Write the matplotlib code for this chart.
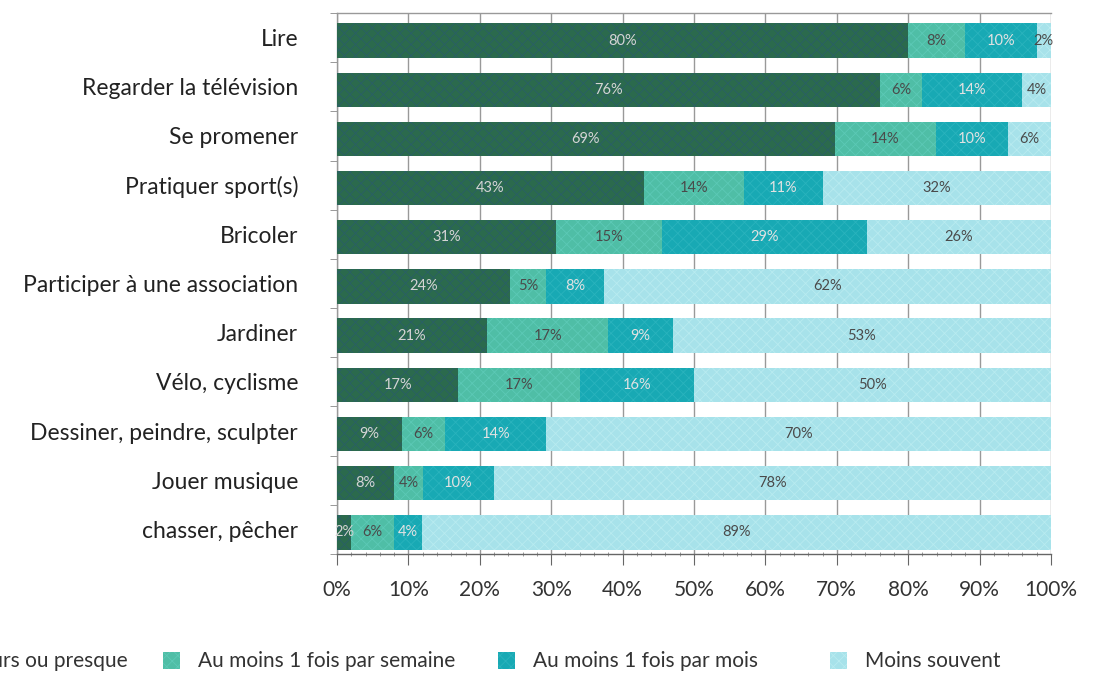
import matplotlib
matplotlib.use("Agg")
import matplotlib.pyplot as plt
from matplotlib.patches import Rectangle
import numpy as np

categories = ["Lire", "Regarder la télévision", "Se promener", "Pratiquer sport(s)",
              "Bricoler", "Participer à une association", "Jardiner", "Vélo, cyclisme",
              "Dessiner, peindre, sculpter", "Jouer musique", "chasser, pêcher"]
series_names = ["Tous les jours ou presque", "Au moins 1 fois par semaine",
                "Au moins 1 fois par mois", "Moins souvent"]
daily   = [80, 76, 69, 43, 31, 24, 21, 17, 9, 8, 2]
weekly  = [8, 6, 14, 14, 15, 5, 17, 17, 6, 4, 6]
monthly = [10, 14, 10, 11, 29, 8, 9, 16, 14, 10, 4]
rarely  = [2, 4, 6, 32, 26, 62, 53, 50, 70, 78, 89]
xtick_values = [0, 10, 20, 30, 40, 50, 60, 70, 80, 90, 100]

colors = ["#2b6a4d", "#4fbea6", "#18a9b4", "#a7e2ea"]
hatch_colors = ["#2a5f66", "#5cc9b6", "#2ab3bd", "#b8ebf0"]
text_colors = ["#d5d5d5", "#4a4a4a", "#e2e2e2", "#4a4a4a"]
FONT = "Lato"

plt.rcParams['font.family'] = [FONT, 'DejaVu Sans']
plt.rcParams['hatch.linewidth'] = 0.6

W, H = 1097, 673
fig = plt.figure(figsize=(W / 100, H / 100), dpi=100)
ax = fig.add_axes([337 / W, 1 - 554 / H, (1051 - 337) / W, (554 - 13) / H])

data = np.array([daily, weekly, monthly, rarely], dtype=float)
totals = data.sum(axis=0)
shares = data / totals * 100
y = np.arange(len(categories))
ybar = y + 0.06
left = np.zeros(len(categories))
for k in range(4):
    bars = ax.barh(ybar, shares[k], left=left, height=0.70, color=colors[k],
                   edgecolor=hatch_colors[k], linewidth=0, hatch="xxx", zorder=3)
    for i, b in enumerate(bars):
        cx = left[i] + shares[k][i] / 2
        ax.text(cx, ybar[i], f"{int(data[k][i])}%", ha="center", va="center",
                fontsize=10.5, color=text_colors[k], zorder=4)
    left += shares[k]

ax.set_xlim(0, 100)
ax.set_ylim(len(categories) - 0.5, -0.5)
ax.set_xticks(xtick_values)
ax.set_xticklabels([f"{v}%" for v in xtick_values], fontsize=15, color="#333333")
ax.set_xticks(np.arange(0, 101, 2), minor=True)
ax.set_yticks(y)
ax.set_yticklabels(categories, fontsize=16.5, color="#222222")
ax.set_yticks(np.arange(-0.5, len(categories), 1), minor=True)
ax.tick_params(axis="y", which="major", length=0, pad=28)
ax.tick_params(axis="y", which="minor", length=5, color="#888888", direction="out")
ax.tick_params(axis="x", which="major", length=8, color="#666666", direction="out", pad=11)
ax.tick_params(axis="x", which="minor", length=3, color="#888888", direction="inout")
ax.grid(axis="x", which="major", color="#999999", linewidth=1, zorder=0)
for s in ax.spines.values():
    s.set_color("#999999")
    s.set_linewidth(1)
ax.spines["right"].set_visible(False)
ax.spines["bottom"].set_color("#666666")

# legend built manually in figure pixels (first entry is cut at the left edge, as in the reference)
first_text_right = 128
patch_x = [None, 163, 498, 830]
for i, name in enumerate(series_names):
    if i == 0:
        fig.text(first_text_right / W, 1 - 661 / H, name, ha="right",
                 va="center", fontsize=15, color="#333333")
        continue
    x0 = patch_x[i]
    fig.patches.append(Rectangle((x0 / W, 1 - 669 / H), 17 / W, 17 / H,
                                 transform=fig.transFigure, facecolor=colors[i],
                                 edgecolor=hatch_colors[i], linewidth=0, hatch="xxx"))
    fig.text((x0 + 35) / W, 1 - 661 / H, name, ha="left", va="center",
             fontsize=15, color="#333333")

fig.savefig("out.png", dpi=100)
